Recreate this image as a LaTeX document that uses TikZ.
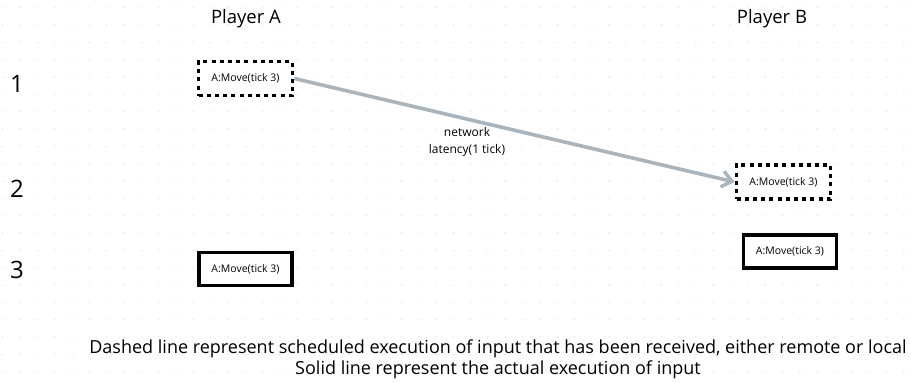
\documentclass[tikz,border=0pt]{standalone}
\usepackage{fontspec}
\setmainfont{Open Sans}
\usetikzlibrary{arrows.meta}
\definecolor{arrowgray}{HTML}{A9B4BC}
\definecolor{griddot}{HTML}{E4E4E4}
\tikzset{
  lbl/.style={inner sep=0pt, font=\fontsize{18.5}{20}\selectfont},
  num/.style={inner sep=0pt, font=\fontsize{24}{26}\selectfont},
  sched/.style={draw=black, line width=3.6pt, dash pattern=on 4pt off 4.2pt, minimum width=94pt, minimum height=34pt, inner sep=0pt, font=\fontsize{10.5}{12}\selectfont},
  actual/.style={draw=black, line width=3.6pt, minimum width=93pt, minimum height=33pt, inner sep=0pt, font=\fontsize{10.5}{12}\selectfont},
  link/.style={draw=arrowgray, line width=3.6pt, -{Straight Barb[length=10pt, width=16pt, line width=3.4pt]}},
  note/.style={inner sep=0pt, align=center, font=\fontsize{12}{17}\selectfont},
  caption/.style={inner sep=0pt, align=center, font=\fontsize{18}{21}\selectfont},
  dot/.style={fill=griddot}
}
\begin{document}
\begin{tikzpicture}[x=1pt, y=-1pt]
\useasboundingbox (0,0) rectangle (911,383);
\foreach \i in {0,...,52}{
  \foreach \j in {0,...,21}{
    \fill[dot] (2.7+17.33*\i, 7.7+17.33*\j) circle (0.8pt);
  }
}
\node[lbl] (pa) at (246,19) {Player A};
\node[lbl] (pb) at (772,19) {Player B};
\node[num] (n1) at (17,84) {1};
\node[num] (n2) at (17,189) {2};
\node[num] (n3) at (17,270) {3};
\node[sched, fill=white] (a1) at (245.5,78.5) {A:Move(tick 3)};
\node[sched, fill=white] (b2) at (783.5,182) {A:Move(tick 3)};
\node[actual, fill=white] (a3) at (245.5,269) {A:Move(tick 3)};
\node[actual, fill=white] (b3) at (790,251.5) {A:Move(tick 3)};
\draw[link] (a1.east) -- (b2.west);
\node[note] (lat) at (467,142) {network\\latency(1 tick)};
\node[caption] (cap) at (498,359) {Dashed line represent scheduled execution of input that has been received, either remote or local\\Solid line represent the actual execution of input};
\end{tikzpicture}
\end{document}
